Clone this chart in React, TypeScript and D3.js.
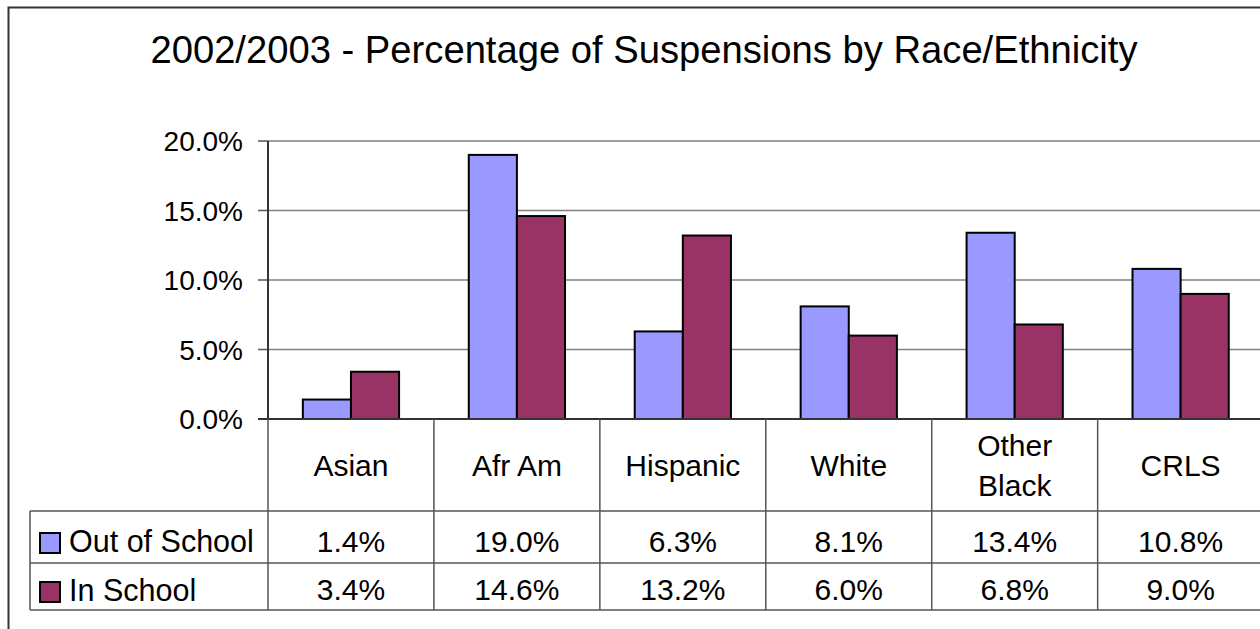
import React from "react";
import * as d3 from "d3";

const title = "2002/2003 - Percentage of Suspensions by Race/Ethnicity";
const categories = ["Asian", "Afr Am", "Hispanic", "White", "Other Black", "CRLS"];
const categoryLines = [["Asian"], ["Afr Am"], ["Hispanic"], ["White"], ["Other", "Black"], ["CRLS"]];
const seriesNames = ["Out of School", "In School"];
const outOfSchool = [1.4, 19.0, 6.3, 8.1, 13.4, 10.8];
const inSchool = [3.4, 14.6, 13.2, 6.0, 6.8, 9.0];
const yTicks = [0, 5, 10, 15, 20];
const colors = ["#9999FF", "#993366"];

const W = 1260;
const H = 629;
const plotLeft = 268;
const plotRight = 1263.6;
const plotTop = 141;
const plotBottom = 419;
const tableLeft = 30;
const rowCat = 511;
const row1 = 563;
const row2 = 610;
const font = "'Liberation Sans', Arial, sans-serif";

export default function App() {
  const x = d3.scaleBand<string>().domain(categories).range([plotLeft, plotRight]).paddingInner(0.42).paddingOuter(0.21);
  const xCell = d3.scaleBand<string>().domain(categories).range([plotLeft, plotRight]).padding(0);
  const y = d3.scaleLinear().domain([0, 20]).range([plotBottom, plotTop]);
  const series = [outOfSchool, inSchool];
  const bw = x.bandwidth() / 2;
  const fmt = d3.format(".1f");

  return (
    <svg width={W} height={H} style={{ position: "absolute", left: 0, top: 0, display: "block" }}>
      <rect x={0} y={0} width={W} height={H} fill="#fff" />
      {/* outer border */}
      <rect x={8.5} y={7.5} width={W + 20} height={H + 20} fill="none" stroke="#333" strokeWidth={2} />
      <text x={644} y={63} textAnchor="middle" fontFamily={font} fontSize={38.2} fill="#000">{title}</text>

      {/* gridlines */}
      {yTicks.map((t) => (
        <g key={t}>
          {t > 0 && <line x1={plotLeft} x2={W} y1={y(t)} y2={y(t)} stroke="#808080" strokeWidth={1.5} />}
          <line x1={258} x2={plotLeft} y1={y(t)} y2={y(t)} stroke="#555" strokeWidth={1.5} />
          <text x={243} y={y(t) + 10} textAnchor="end" fontFamily={font} fontSize={28} fill="#000">{fmt(t) + "%"}</text>
        </g>
      ))}

      {/* bars */}
      {series.map((vals, si) =>
        vals.map((v, i) => (
          <rect key={si + "-" + i}
            x={(x(categories[i]) as number) + si * bw}
            y={y(v)}
            width={bw}
            height={y(0) - y(v)}
            fill={colors[si]}
            stroke="#000"
            strokeWidth={2} />
        ))
      )}

      {/* axes */}
      <line x1={plotLeft} x2={plotLeft} y1={plotTop} y2={plotBottom} stroke="#333" strokeWidth={2} />
      <line x1={258} x2={W} y1={plotBottom} y2={plotBottom} stroke="#333" strokeWidth={2} />

      {/* table */}
      <line x1={tableLeft} x2={W} y1={rowCat} y2={rowCat} stroke="#555" strokeWidth={1.5} />
      <line x1={tableLeft} x2={W} y1={row1} y2={row1} stroke="#555" strokeWidth={1.5} />
      <line x1={tableLeft} x2={W} y1={row2} y2={row2} stroke="#555" strokeWidth={1.5} />
      <line x1={tableLeft} x2={tableLeft} y1={rowCat} y2={row2} stroke="#555" strokeWidth={1.5} />
      {categories.map((c, i) => (
        <line key={"v" + i} x1={xCell(c) as number} x2={xCell(c) as number} y1={plotBottom} y2={row2} stroke="#555" strokeWidth={1.5} />
      ))}
      {categories.map((c, i) => {
        const cx = (xCell(c) as number) + xCell.bandwidth() / 2;
        const lines = categoryLines[i];
        return (
          <g key={"c" + i}>
            {lines.map((ln, li) => (
              <text key={li} x={cx} textAnchor="middle" fontFamily={font} fontSize={30} fill="#000"
                y={lines.length === 1 ? 476 : 456 + li * 40}>{ln}</text>
            ))}
            {series.map((vals, si) => (
              <text key={"t" + si} x={cx} y={si === 0 ? 552 : 600} textAnchor="middle" fontFamily={font} fontSize={30} fill="#000">
                {fmt(vals[i]) + "%"}
              </text>
            ))}
          </g>
        );
      })}
      {seriesNames.map((s, si) => (
        <g key={s}>
          <rect x={40} y={si === 0 ? 533 : 582} width={20} height={20} fill={colors[si]} stroke="#000" strokeWidth={2} />
          <text x={69} y={si === 0 ? 552 : 601} fontFamily={font} fontSize={30.5} fill="#000">{s}</text>
        </g>
      ))}
    </svg>
  );
}
